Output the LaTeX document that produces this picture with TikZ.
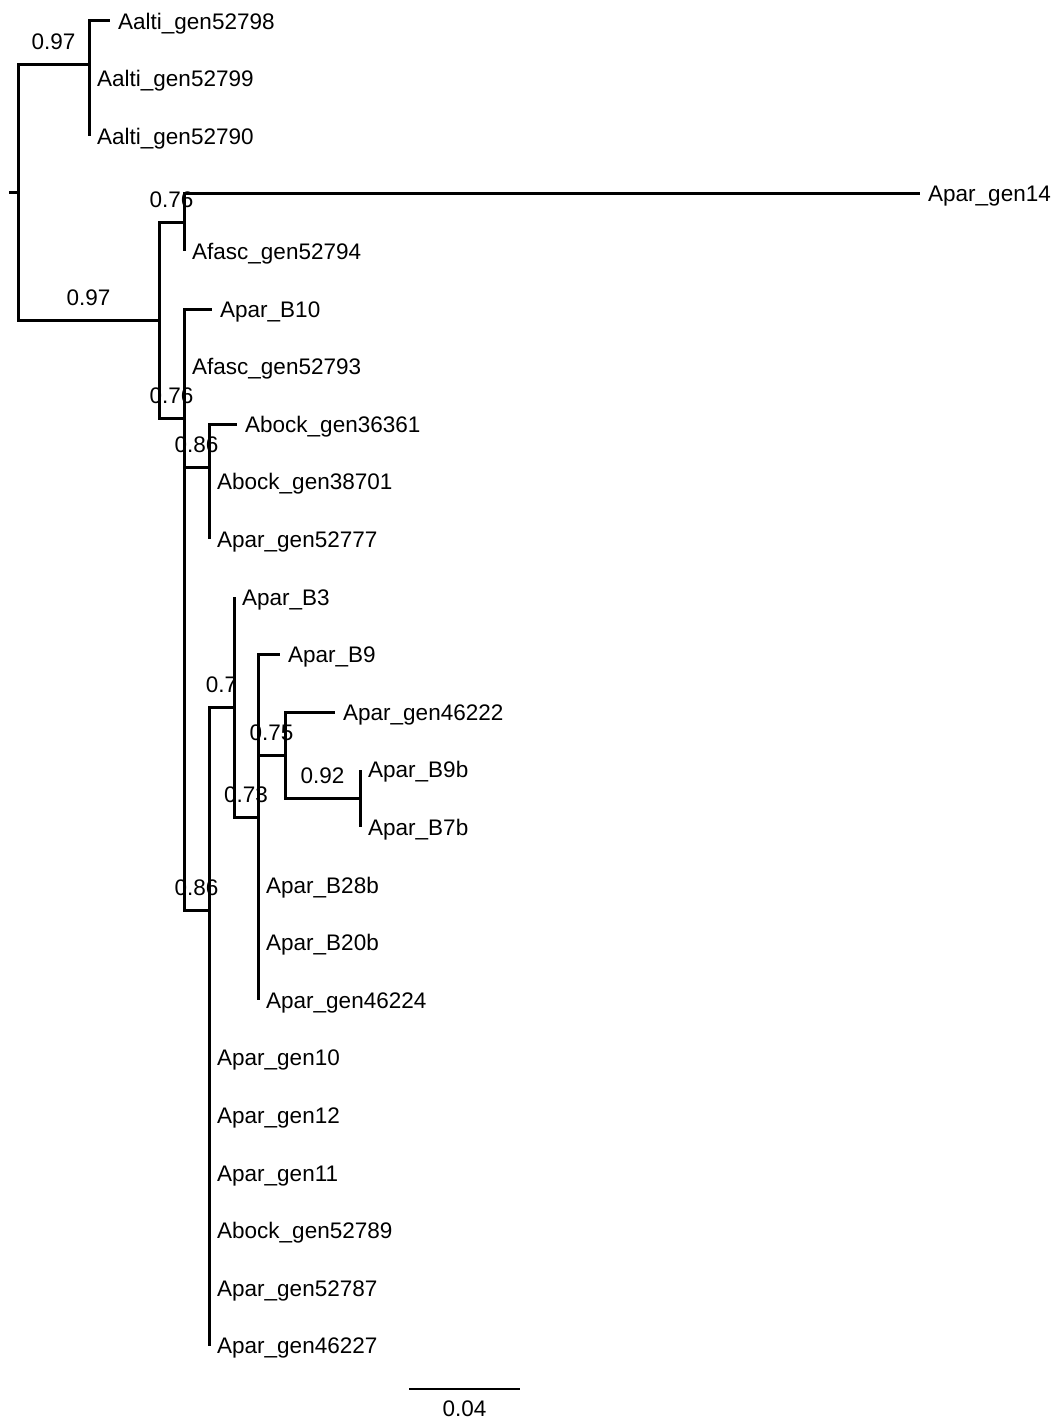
\documentclass[tikz,border=0pt]{standalone}
\usepackage{fontspec}
\setmainfont{Liberation Sans}

\begin{document}
\begin{tikzpicture}[
    x=1bp, y=-1bp,
    font=\fontsize{22.5bp}{26bp}\selectfont,
    % Define styles
    branch/.style = {line width=3bp},
    tip/.style = {anchor=west, inner xsep=8bp, inner ysep=0pt, text height=16.1bp, text depth=0pt},
    support/.style = {above=13bp, inner sep=0pt},
    scalebar/.style = {line width=1.7bp}
]
\useasboundingbox (0,0) rectangle (1053,1423);

% Internal nodes
\coordinate (stub)   at (9,192.4);
\coordinate (root)   at (18,192.4);
\coordinate (nAalti) at (89,64.2);
\coordinate (nMain)  at (159,320.6);
\coordinate (nLong)  at (184,222.6);
\coordinate (nCore)  at (184,418.6);
\coordinate (nAbock) at (209,467.4);
\coordinate (nBig)   at (209,910.3);
\coordinate (nSub)   at (234,707.5);
\coordinate (nBnine) at (258,817);
\coordinate (nGen)   at (285,755.4);
\coordinate (nPair)  at (360,798.6);

% Tips
\node [tip] (aalti98)  at (110,21)    {Aalti\_gen52798};
\node [tip] (aalti99)  at (89,78.6)   {Aalti\_gen52799};
\node [tip] (aalti90)  at (89,136.2)  {Aalti\_gen52790};
\node [tip] (apar14)   at (920,193.8) {Apar\_gen14};
\node [tip] (afasc94)  at (184,251.4) {Afasc\_gen52794};
\node [tip] (aparB10)  at (212,309)   {Apar\_B10};
\node [tip] (afasc93)  at (184,366.6) {Afasc\_gen52793};
\node [tip] (abock61)  at (237,424.2) {Abock\_gen36361};
\node [tip] (abock01)  at (209,481.8) {Abock\_gen38701};
\node [tip] (apar77)   at (209,539.4) {Apar\_gen52777};
\node [tip] (aparB3)   at (234,597)   {Apar\_B3};
\node [tip] (aparB9)   at (280,654.6) {Apar\_B9};
\node [tip] (apar222)  at (335,712.2) {Apar\_gen46222};
\node [tip] (aparB9b)  at (360,769.8) {Apar\_B9b};
\node [tip] (aparB7b)  at (360,827.4) {Apar\_B7b};
\node [tip] (aparB28b) at (258,885)   {Apar\_B28b};
\node [tip] (aparB20b) at (258,942.6) {Apar\_B20b};
\node [tip] (apar224)  at (258,1000.2) {Apar\_gen46224};
\node [tip] (apar10)   at (209,1057.8) {Apar\_gen10};
\node [tip] (apar12)   at (209,1115.4) {Apar\_gen12};
\node [tip] (apar11)   at (209,1173)   {Apar\_gen11};
\node [tip] (abock89)  at (209,1230.6) {Abock\_gen52789};
\node [tip] (apar87)   at (209,1288.2) {Apar\_gen52787};
\node [tip] (apar227)  at (209,1345.8) {Apar\_gen46227};

% Internal branches with support values
\draw [branch] (stub) -- (root);
\draw [branch] (root) |- node[support, pos=0.75] {0.97} (nAalti);
\draw [branch] (root) |- node[support, pos=0.75] {0.97} (nMain);
\draw [branch] (nMain) |- node[support, pos=0.75] {0.76} (nLong);
\draw [branch] (nMain) |- node[support, pos=0.75] {0.76} (nCore);
\draw [branch] (nCore) |- node[support, pos=0.75] {0.86} (nAbock);
\draw [branch] (nCore) |- node[support, pos=0.75] {0.86} (nBig);
\draw [branch] (nBig) |- node[support, pos=0.75] {0.7} (nSub);
\draw [branch] (nSub) |- node[support, pos=0.75] {0.73} (nBnine);
\draw [branch] (nBnine) |- node[support, pos=0.75] {0.75} (nGen);
\draw [branch] (nGen) |- node[support, pos=0.75] {0.92} (nPair);

% Tip branches
\draw [branch] (nAalti) |- (aalti98.west);
\draw [branch] (nAalti) |- (aalti99.west);
\draw [branch] (nAalti) |- (aalti90.west);
\draw [branch] (nLong) |- (apar14.west);
\draw [branch] (nLong) |- (afasc94.west);
\draw [branch] (nCore) |- (aparB10.west);
\draw [branch] (nCore) |- (afasc93.west);
\draw [branch] (nAbock) |- (abock61.west);
\draw [branch] (nAbock) |- (abock01.west);
\draw [branch] (nAbock) |- (apar77.west);
\draw [branch] (nSub) |- (aparB3.west);
\draw [branch] (nBnine) |- (aparB9.west);
\draw [branch] (nGen) |- (apar222.west);
\draw [branch] (nPair) |- (aparB9b.west);
\draw [branch] (nPair) |- (aparB7b.west);
\draw [branch] (nBnine) |- (aparB28b.west);
\draw [branch] (nBnine) |- (aparB20b.west);
\draw [branch] (nBnine) |- (apar224.west);
\draw [branch] (nBig) |- (apar10.west);
\draw [branch] (nBig) |- (apar12.west);
\draw [branch] (nBig) |- (apar11.west);
\draw [branch] (nBig) |- (abock89.west);
\draw [branch] (nBig) |- (apar87.west);
\draw [branch] (nBig) |- (apar227.west);

% Scale bar
\coordinate (scaleL) at (409,1389);
\coordinate (scaleR) at (520,1389);
\draw [scalebar] (scaleL) -- node[below=11bp, inner sep=0pt] {0.04} (scaleR);

\end{tikzpicture}
\end{document}
